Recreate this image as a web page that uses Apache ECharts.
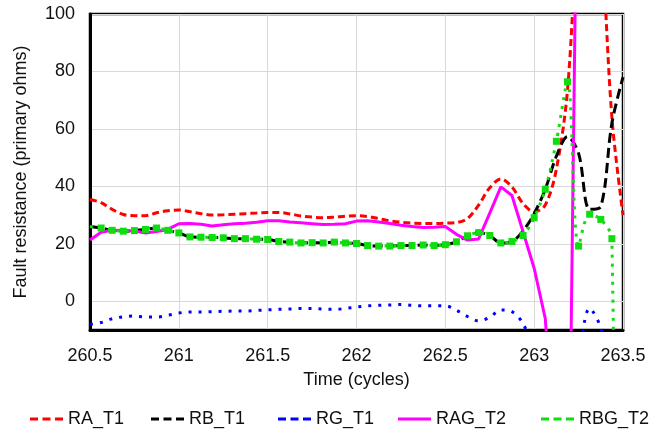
<!DOCTYPE html>
<html>
<head>
<meta charset="utf-8">
<title>Fault resistance</title>
<script src="https://cdn.jsdelivr.net/npm/echarts@6/dist/echarts.min.js"></script>
<style>
  html, body { margin: 0; padding: 0; background: #fff; }
  #chart { width: 654px; height: 434px; }
</style>
</head>
<body>
<div id="chart"></div>
<script>
// Sample instants, 16 samples per cycle
const timeCycles = [260.5, 260.5625, 260.625, 260.6875, 260.75, 260.8125, 260.875, 260.9375,
  261, 261.0625, 261.125, 261.1875, 261.25, 261.3125, 261.375, 261.4375,
  261.5, 261.5625, 261.625, 261.6875, 261.75, 261.8125, 261.875, 261.9375,
  262, 262.0625, 262.125, 262.1875, 262.25, 262.3125, 262.375, 262.4375,
  262.5, 262.5625, 262.625, 262.6875, 262.75, 262.8125, 262.875, 262.9375,
  263, 263.0625, 263.125, 263.1875, 263.25, 263.3125, 263.375, 263.4375, 263.5];

// Fault resistance estimates (primary ohms)
const raT1 = [35.5, 34.3, 32.0, 30.2, 29.8, 29.8, 30.8, 31.5, 31.8, 31.2,
  30.5, 30.0, 30.1, 30.3, 30.5, 30.7, 30.9, 30.9, 30.4, 29.7,
  29.3, 29.1, 29.3, 29.6, 29.8, 29.5, 28.8, 28.0, 27.5, 27.2,
  27.1, 27.1, 27.2, 27.4, 28.8, 33.5, 39.5, 42.6, 39.8, 34.0,
  31.1, 33.5, 46.0, 73.5, 135, 165, 130, 64, 30];
const rbT1 = [26.0, 25.5, 24.7, 24.4, 24.6, 25.0, 25.5, 24.7, 23.8, 22.4,
  22.3, 22.2, 22.1, 21.8, 21.8, 21.6, 21.5, 20.8, 20.6, 20.3,
  20.4, 20.3, 20.6, 20.3, 20.1, 19.4, 19.2, 19.2, 19.4, 19.4,
  19.6, 19.4, 19.7, 20.7, 22.8, 23.9, 22.9, 20.3, 20.8, 24.5,
  30.5, 39.0, 50.5, 57.3, 51.5, 32.0, 33.0, 62, 78];
const rgT1 = [-8.0, -7.4, -6.1, -5.4, -5.15, -5.5, -5.5, -4.9, -4.1, -3.7,
  -3.7, -3.6, -3.5, -3.4, -3.4, -3.2, -3.0, -2.8, -2.7, -2.5,
  -2.5, -2.7, -2.8, -2.5, -2.0, -1.6, -1.4, -1.3, -1.1, -1.4,
  -1.6, -1.6, -1.6, -3.1, -5.3, -6.8, -5.6, -3.0, -3.6, -7.8,
  -18, -40, -50, -40, -20, -2.5, -9.3, -30, -40];
const ragT2 = [21.3, 24.0, 24.7, 24.6, 24.5, 23.8, 24.3, 25.0, 27.0, 27.1,
  26.8, 26.2, 26.6, 27.0, 27.2, 27.5, 28.0, 28.0, 27.6, 27.3,
  27.0, 26.7, 26.8, 27.0, 27.9, 28.0, 27.6, 27.1, 26.5, 26.0,
  25.7, 25.8, 26.0, 23.3, 21.3, 21.7, 30.7, 39.8, 36.8, 24.2,
  11.5, -6.0, -60, -114, 199, 260, 240, 220, 200];
const rbgT2 = [26.0, 25.5, 24.7, 24.4, 24.6, 25.0, 25.5, 24.7, 23.8, 22.4,
  22.3, 22.2, 22.1, 21.8, 21.8, 21.6, 21.5, 20.8, 20.6, 20.3,
  20.4, 20.3, 20.6, 20.3, 20.1, 19.4, 19.2, 19.2, 19.4, 19.4,
  19.6, 19.4, 19.7, 20.7, 22.8, 23.9, 22.9, 20.3, 20.8, 22.9,
  29.1, 39.0, 55.7, 76.4, 19.2, 30.3, 28.5, 21.8, -400];

const seriesNames = ['RA_T1', 'RB_T1', 'RG_T1', 'RAG_T2', 'RBG_T2'];
const seriesColors = ['#ff0000', '#000000', '#0000ff', '#ff00ff', '#10dd10'];
const yTickLabels = [0, 20, 40, 60, 80, 100];

const FONT = '"Liberation Sans", Arial, sans-serif';
const FONT_SIZE = 18;
const dashIcon = 'path://M0,0h8v3h-8z M12.5,0h8v3h-8z M25,0h8v3h-8z';
const solidIcon = 'path://M0,0h33v3h-33z';

function pairs(values) {
  return values.map((v, i) => [timeCycles[i], v]);
}

const chart = echarts.init(document.getElementById('chart'), null, { renderer: 'canvas' });

const legendLeft = [30, 151, 278, 398, 541];
const legends = seriesNames.map((name, i) => ({
  left: legendLeft[i],
  top: 410,
  padding: 0,
  selectedMode: false,
  itemWidth: 33,
  itemHeight: 3,
  itemStyle: { borderWidth: 0 },
  textStyle: { fontFamily: FONT, fontSize: FONT_SIZE, color: '#111' },
  data: [{ name: name, icon: name === 'RAG_T2' ? solidIcon : dashIcon }]
}));

chart.setOption({
  animation: false,
  backgroundColor: '#ffffff',
  legend: legends,
  grid: {
    left: 90, right: 31, top: 14, bottom: 104,
    show: true, borderColor: '#000', borderWidth: 2.5,
    containLabel: false
  },
  xAxis: {
    type: 'value',
    min: 260.5, max: 263.5, interval: 0.5,
    name: 'Time (cycles)',
    nameLocation: 'middle',
    nameGap: 41,
    nameTextStyle: { fontFamily: FONT, fontSize: FONT_SIZE, color: '#111' },
    axisLine: { show: true, onZero: false, lineStyle: { color: '#000', width: 3 } },
    axisTick: { show: false },
    axisLabel: { fontFamily: FONT, fontSize: FONT_SIZE, color: '#111', margin: 17 },
    splitLine: { show: true, lineStyle: { color: '#d9d9d9', width: 1 } }
  },
  yAxis: {
    type: 'value',
    min: -10, max: 100, interval: 10,
    name: 'Fault resistance (primary ohms)',
    nameLocation: 'middle',
    nameGap: 60,
    nameTextStyle: { fontFamily: FONT, fontSize: FONT_SIZE, color: '#111' },
    axisLine: { show: true, onZero: false, lineStyle: { color: '#000', width: 3 } },
    axisTick: { show: false },
    axisLabel: {
      fontFamily: FONT, fontSize: FONT_SIZE, color: '#111', margin: 15,
      formatter: v => (yTickLabels.indexOf(v) >= 0 ? String(v) : '')
    },
    splitLine: { show: true, lineStyle: { color: ['rgba(0,0,0,0)', '#d9d9d9'], width: 1 } }
  },
  series: [
    {
      name: 'RA_T1', type: 'line', data: pairs(raT1),
      color: seriesColors[0], smooth: 0.33, showSymbol: false, symbol: 'none',
      lineStyle: { width: 3, type: [7, 4], color: seriesColors[0] }
    },
    {
      name: 'RB_T1', type: 'line', data: pairs(rbT1),
      color: seriesColors[1], smooth: 0.33, showSymbol: false, symbol: 'none',
      lineStyle: { width: 3, type: [10, 5], color: seriesColors[1] }
    },
    {
      name: 'RG_T1', type: 'line', data: pairs(rgT1),
      color: seriesColors[2], smooth: 0.33, showSymbol: false, symbol: 'none',
      lineStyle: { width: 3, type: [3, 7], color: seriesColors[2] }
    },
    {
      name: 'RAG_T2', type: 'line', data: pairs(ragT2),
      color: seriesColors[3], smooth: false, showSymbol: false, symbol: 'none',
      lineStyle: { width: 3, color: seriesColors[3] }
    },
    {
      name: 'RBG_T2', type: 'line', data: pairs(rbgT2),
      color: seriesColors[4], smooth: 0.33,
      symbol: 'rect',
      symbolSize: (val, p) => (p.dataIndex === 0 ? 0 : 7),
      itemStyle: { color: seriesColors[4], borderWidth: 0 },
      lineStyle: { width: 3, type: [3, 6], color: seriesColors[4] }
    }
  ]
});
</script>
</body>
</html>
